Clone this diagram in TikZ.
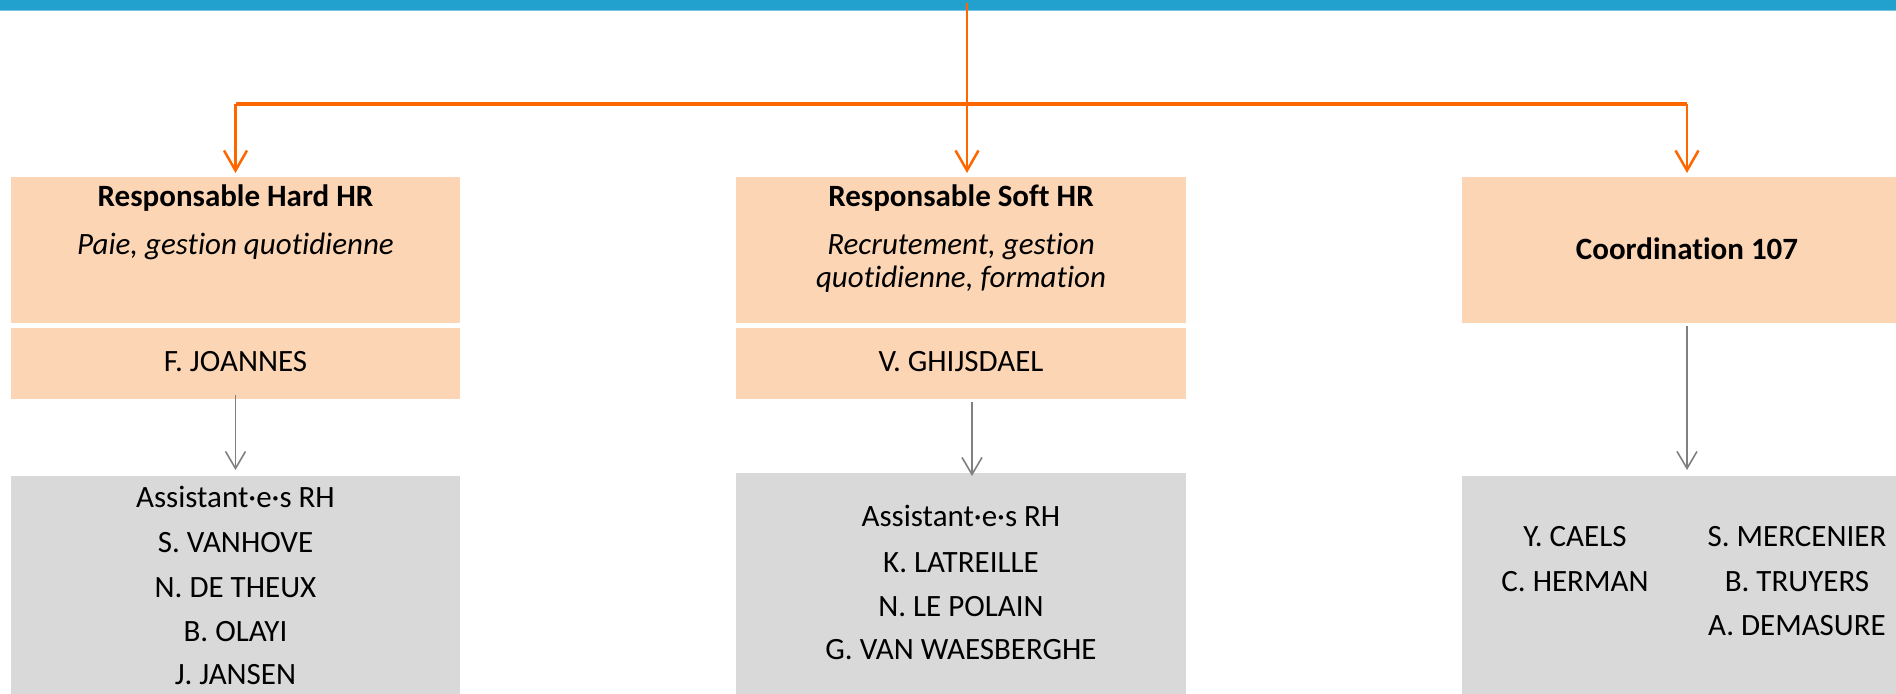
\documentclass[tikz,border=0pt]{standalone}
\usepackage{fontspec}
\setmainfont{Carlito}[RawFeature=-liga]
\usetikzlibrary{arrows.meta,calc}
\definecolor{topblue}{RGB}{35,161,206}
\definecolor{topblue2}{RGB}{120,196,226}
\definecolor{lineorange}{RGB}{255,102,0}
\definecolor{peach}{RGB}{252,213,181}
\definecolor{boxgray}{RGB}{217,217,217}
\definecolor{arrowgray}{RGB}{128,128,128}
\begin{document}
\begin{tikzpicture}[x=0.5pt,y=-0.5pt,
  box/.style={draw=none, inner sep=0pt, outer sep=0pt, anchor=north west},
  peachbox/.style={box, fill=peach},
  graybox/.style={box, fill=boxgray},
  lbl/.style={anchor=base, inner sep=0pt, font=\fontsize{15.5pt}{18pt}\selectfont},
  hd/.style={lbl, font=\fontsize{15.5pt}{18pt}\selectfont\bfseries},
  itl/.style={lbl, font=\fontsize{15.5pt}{18pt}\selectfont\itshape},
  orangearrow/.style={draw=lineorange, line width=1.25pt, shorten >=2pt,
    -{Straight Barb[length=10pt,width=11.5pt,line width=1.25pt]}},
  grayarrow/.style={draw=arrowgray, line width=0.8pt,
    -{Straight Barb[length=8.5pt,width=10pt,line width=0.8pt]}}]
\useasboundingbox (0,0) rectangle (1896,694);
\clip (0,0) rectangle (1896,694);
% top bar
\fill[topblue] (0,0) rectangle (1896,10);
\fill[topblue2] (0,10) rectangle (1896,11.5);
% boxes
\node[peachbox, minimum width=224.5pt, minimum height=73pt] (hard) at (11,177) {};
\node[peachbox, minimum width=224.5pt, minimum height=35.5pt] (hardname) at (11,328) {};
\node[graybox, minimum width=224.5pt, minimum height=112pt] (hardgray) at (11,476) {};
\node[peachbox, minimum width=225pt, minimum height=73pt] (soft) at (736,177) {};
\node[peachbox, minimum width=225pt, minimum height=35.5pt] (softname) at (736,328) {};
\node[graybox, minimum width=225pt, minimum height=112pt] (softgray) at (736,473) {};
\node[peachbox, minimum width=225pt, minimum height=73pt] (coord) at (1462,177) {};
\node[graybox, minimum width=225pt, minimum height=112pt] (coordgray) at (1462,476) {};
% texts
\node[hd] (h1) at (235.5,207) {Responsable Hard HR};
\node[itl] (h1b) at (235.5,255) {Paie, gestion quotidienne};
\node[lbl] (n1) at (235.5,372) {F. JOANNES};
\node[lbl] (g1a) at (235.5,508) {Assistant·e·s RH};
\node[lbl] (g1b) at (235.5,553) {S. VANHOVE};
\node[lbl] (g1c) at (235.5,598) {N. DE THEUX};
\node[lbl] (g1d) at (235.5,642) {B. OLAYI};
\node[lbl] (g1e) at (235.5,685) {J. JANSEN};
\node[hd] (h2) at (961,207) {Responsable Soft HR};
\node[itl] (h2b) at (961,255) {Recrutement, gestion};
\node[itl] (h2c) at (961,288) {quotidienne, formation};
\node[lbl] (n2) at (961,372) {V. GHIJSDAEL};
\node[lbl] (g2a) at (961,527) {Assistant·e·s RH};
\node[lbl] (g2b) at (961,573) {K. LATREILLE};
\node[lbl] (g2c) at (961,617) {N. LE POLAIN};
\node[lbl] (g2d) at (961,660) {G. VAN WAESBERGHE};
\node[hd] (h3) at (1687,260) {Coordination 107};
\node[lbl] (g3a) at (1575,547) {Y. CAELS};
\node[lbl] (g3b) at (1575,592) {C. HERMAN};
\node[lbl] (g3c) at (1797,547) {S. MERCENIER};
\node[lbl] (g3d) at (1797,592) {B. TRUYERS};
\node[lbl] (g3e) at (1797,636) {A. DEMASURE};
% orange connectors
\coordinate (src) at (967,3);
\coordinate (bar) at (967,104);
\draw[lineorange, line width=2pt] (hard.north |- bar) -- (coord.north |- bar);
\draw[orangearrow] (src) -- (src |- soft.north);
\draw[orangearrow] (hard.north |- bar) -- (hard.north);
\draw[orangearrow] (coord.north |- bar) -- (coord.north);
% gray connectors
\draw[grayarrow] ([yshift=2pt]hardname.south) -- ([yshift=3pt]hardgray.north);
\draw[grayarrow] ([xshift=5.5pt,yshift=-1.5pt]softname.south) -- ([xshift=5.5pt,yshift=-1.5pt]softgray.north);
\draw[grayarrow] ([yshift=-1.5pt]coord.south) -- ([yshift=3pt]coordgray.north);
\end{tikzpicture}
\end{document}
